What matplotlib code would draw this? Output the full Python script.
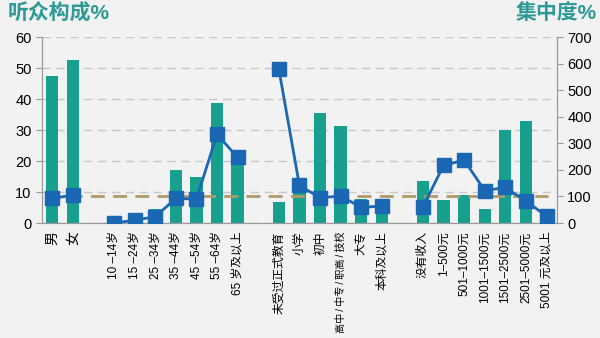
import numpy as np
import matplotlib
matplotlib.use("Agg")
import matplotlib.pyplot as plt

plt.rcParams['font.family'] = ['Liberation Sans', 'Noto Sans CJK SC', 'DejaVu Sans']

# categories, grouped (gender / age / education / income)
groups = [
    ["男", "女"],
    ["10 –14岁", "15 –24岁", "25 –34岁", "35 –44岁", "45 –54岁", "55 –64岁", "65 岁及以上"],
    ["未受过正式教育", "小学", "初中", "高中\u2009/\u2009中专\u2009/\u2009职高\u2009/\u2009技校", "大专", "本科及以上"],
    ["没有收入", "1–500元", "501–1000元", "1001–1500元", "1501–2500元", "2501–5000元", "5001 元及以上"],
]
# 听众构成% (bars, left axis)
share = [
    [47.3, 52.7],
    [0.5, 1.0, 4.7, 17.0, 15.0, 38.8, 22.0],
    [6.8, 12.0, 35.6, 31.4, 7.8, 7.2],
    [13.5, 7.6, 9.2, 4.6, 30.1, 32.8, 1.0],
]
# 集中度% (line, right axis)
conc = [
    [93, 105],
    [0, 11, 24, 93, 90, 334, 247],
    [580, 142, 95, 102, 59, 64],
    [61, 217, 237, 122, 134, 83, 26],
]

teal = "#17a08e"
blue = "#1a68b4"
title_c = "#2e9a98"
bg = "#f2f2f2"

fig = plt.figure(figsize=(6, 3.38), dpi=100, facecolor=bg)
ax = fig.add_axes([0.07, 0.34, 0.858, 0.5505], facecolor=bg)
ax2 = ax.twinx()

labels, xs_all = [], []
pos = 0
xgroups = []
for g in groups:
    xs = list(range(pos, pos + len(g)))
    xgroups.append(xs)
    xs_all += xs
    labels += g
    pos += len(g) + 1

for xs, vals in zip(xgroups, share):
    ax.bar(xs, vals, width=0.6, color=teal, zorder=2)

ax2.hlines(100, -0.3, 24.05, colors="#b09a6a", linestyles=(0, (5, 3)), lw=2, zorder=3)
for xs, vals in zip(xgroups, conc):
    ax2.plot(xs, vals, color=blue, lw=2, marker="s", ms=9.5, mfc=blue, mec=blue, zorder=4)

ax.set_xlim(-0.5, 24.5)
ax.set_ylim(0, 60)
ax2.set_ylim(0, 700)
ax.set_yticks(range(0, 61, 10))
ax2.set_yticks(range(0, 701, 100))
ax.yaxis.grid(True, color="#c8c8c8", ls=(0, (6, 4)), lw=1)
ax.set_axisbelow(True)

ax.set_xticks(xs_all)
ax.set_xticklabels(labels, rotation=90, fontsize=8.5)
ax.tick_params(axis="x", length=0, pad=6)
ax.tick_params(axis="y", labelsize=10.5, length=4, color="#999999")
ax2.tick_params(axis="y", labelsize=10.5, length=4, color="#999999")
ticklabs = ax.get_xticklabels()
# longest label is a bit smaller so it fits, gender labels a bit bigger
ticklabs[xs_all.index(14)].set_fontsize(7.3)
ticklabs[0].set_fontsize(10)
ticklabs[1].set_fontsize(10)

for a in (ax, ax2):
    a.spines["top"].set_visible(False)
    for s in ("left", "right", "bottom"):
        a.spines[s].set_color("#999999")

fig.text(0.012, 0.99, "听众构成%", color=title_c, fontsize=15, fontweight="bold", va="top", ha="left")
fig.text(0.995, 0.99, "集中度%", color=title_c, fontsize=15, fontweight="bold", va="top", ha="right")

fig.savefig("out.png", dpi=100, facecolor=bg)
